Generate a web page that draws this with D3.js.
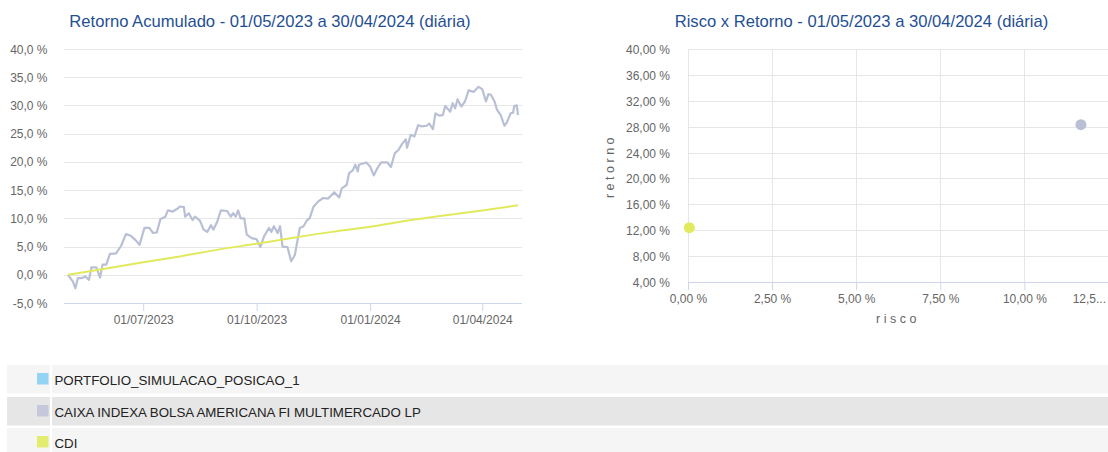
<!DOCTYPE html>
<html>
<head>
<meta charset="utf-8">
<script src="https://cdn.jsdelivr.net/npm/d3@7"></script>
<style>
  body { margin: 0; background: #fff; }
  svg { display: block; font-family: "Liberation Sans", Arial, Helvetica, sans-serif; }
</style>
</head>
<body>
<svg id="chart" width="1108" height="452"></svg>
<script>
/*
 * Retorno acumulado (linhas) e risco x retorno (dispersão), com legenda em tabela.
 */

// CAIXA INDEXA BOLSA AMERICANA: retorno acumulado (%) por data
var fundDates = [
  "2023-05-01", "2023-05-05", "2023-05-07", "2023-05-09", "2023-05-12", "2023-05-15", "2023-05-18",
  "2023-05-20", "2023-05-24", "2023-05-27", "2023-05-29", "2023-06-01", "2023-06-04", "2023-06-09",
  "2023-06-13", "2023-06-17", "2023-06-21", "2023-06-25", "2023-06-28", "2023-07-02", "2023-07-06",
  "2023-07-09", "2023-07-12", "2023-07-15", "2023-07-19", "2023-07-21", "2023-07-25", "2023-07-28",
  "2023-07-31", "2023-08-03", "2023-08-04", "2023-08-07", "2023-08-10", "2023-08-12", "2023-08-16",
  "2023-08-19", "2023-08-22", "2023-08-25", "2023-08-27", "2023-08-30", "2023-09-02", "2023-09-07",
  "2023-09-10", "2023-09-12", "2023-09-14", "2023-09-16", "2023-09-18", "2023-09-21", "2023-09-23",
  "2023-09-27", "2023-10-01", "2023-10-04", "2023-10-07", "2023-10-11", "2023-10-13", "2023-10-15",
  "2023-10-18", "2023-10-20", "2023-10-22", "2023-10-26", "2023-10-29", "2023-11-01", "2023-11-05",
  "2023-11-08", "2023-11-11", "2023-11-13", "2023-11-16", "2023-11-20", "2023-11-24", "2023-11-28",
  "2023-12-03", "2023-12-07", "2023-12-09", "2023-12-13", "2023-12-15", "2023-12-18", "2023-12-20",
  "2023-12-22", "2023-12-23", "2023-12-29", "2024-01-01", "2024-01-04", "2024-01-07", "2024-01-10",
  "2024-01-15", "2024-01-18", "2024-01-21", "2024-01-24", "2024-01-27", "2024-01-30", "2024-01-31",
  "2024-02-03", "2024-02-06", "2024-02-09", "2024-02-12", "2024-02-16", "2024-02-18", "2024-02-21",
  "2024-02-23", "2024-02-26", "2024-02-29", "2024-03-02", "2024-03-06", "2024-03-08", "2024-03-10",
  "2024-03-12", "2024-03-15", "2024-03-18", "2024-03-21", "2024-03-25", "2024-03-29", "2024-04-01",
  "2024-04-04", "2024-04-06", "2024-04-08", "2024-04-11", "2024-04-13", "2024-04-16", "2024-04-19",
  "2024-04-21", "2024-04-24", "2024-04-26", "2024-04-27", "2024-04-29", "2024-04-30"
];
var fundValues = [
  0.0, -1.2, -2.4, -0.6, -0.6, -0.3, -0.9,
  1.3, 1.3, -0.5, 1.8, 1.8, 3.7, 3.8,
  5.1, 7.2, 6.9, 6.1, 5.3, 8.3, 8.3,
  7.4, 7.5, 9.9, 10.3, 11.4, 11.2, 11.6,
  12.1, 12.0, 10.3, 10.9, 9.7, 10.3, 9.6,
  8.0, 7.6, 8.8, 8.0, 9.4, 11.4, 11.3,
  10.3, 10.9, 10.3, 11.4, 10.0, 10.0, 7.1,
  6.5, 6.3, 4.9, 6.8, 8.3, 7.6, 8.6,
  7.4, 8.6, 5.0, 4.9, 2.4, 3.5, 8.3,
  8.6, 9.7, 10.0, 12.0, 13.0, 13.6, 13.5,
  14.6, 13.7, 15.3, 15.9, 18.0, 18.5, 19.5,
  18.3, 19.5, 19.9, 19.2, 17.6, 18.9, 19.9,
  19.9, 19.1, 21.5, 22.1, 23.2, 24.0, 22.5,
  24.8, 24.5, 26.5, 26.3, 26.4, 26.8, 25.8,
  28.6, 28.2, 28.3, 29.9, 28.9, 30.4, 29.5,
  31.1, 29.8, 30.7, 32.7, 32.4, 33.3, 32.9,
  30.7, 32.0, 31.9, 30.7, 29.2, 28.3, 26.4,
  27.0, 28.6, 28.7, 29.9, 30.0, 28.3
];

// CDI: retorno acumulado (%)
var cdiDates = [
  "2023-05-01", "2023-06-01", "2023-07-01", "2023-08-01", "2023-09-01", "2023-10-01", "2023-11-01",
  "2023-12-01", "2024-01-01", "2024-02-01", "2024-03-01", "2024-04-01", "2024-04-30"
];
var cdiValues = [0.0, 1.1, 2.2, 3.3, 4.5, 5.5, 6.6, 7.6, 8.5, 9.6, 10.5, 11.4, 12.3];

// Risco x retorno (%)
var scatterNames = ["CAIXA INDEXA BOLSA AMERICANA FI MULTIMERCADO LP", "CDI"];
var scatterRisk = [11.68, 0.04];
var scatterReturn = [28.3, 12.4];

// Legenda
var legendNames = ["PORTFOLIO_SIMULACAO_POSICAO_1", "CAIXA INDEXA BOLSA AMERICANA FI MULTIMERCADO LP", "CDI"];
var legendColors = ["#93d4f5", "#c5c8da", "#e3ec6c"];

// Eixos
var lineYTicks = [-5, 0, 5, 10, 15, 20, 25, 30, 35, 40];
var lineXTicks = ["2023-07-01", "2023-10-01", "2024-01-01", "2024-04-01"];
var scatterYTicks = [4, 8, 12, 16, 20, 24, 28, 32, 36, 40];
var scatterXTicks = [0, 2.5, 5, 7.5, 10, 12.5];

var leftTitle = "Retorno Acumulado - 01/05/2023 a 30/04/2024 (diária)";
var rightTitle = "Risco x Retorno - 01/05/2023 a 30/04/2024 (diária)";

var GRID = "#e6e6e6", AXIS = "#ccd6eb", LABEL = "#666666", TITLE = "#1f4f93";
var fundColor = "#b9c0d5", cdiColor = "#e1ea5c";

var ptBR = d3.formatLocale({ decimal: ",", thousands: ".", grouping: [3], currency: ["R$", ""], minus: "-" });
var parseDate = d3.timeParse("%Y-%m-%d");
var svg = d3.select("#chart");

function renderLineChart() {
  /* Gráfico de retorno acumulado à esquerda. */
  var left = 64, right = 522, top = 49, bottom = 303;
  var x = d3.scaleTime()
    .domain([parseDate("2023-05-01"), parseDate("2024-04-30")])
    .range([68, 518]);
  var y = d3.scaleLinear().domain([-5, 40]).range([bottom, top]);
  var fmt = ptBR.format(".1f");

  var g = svg.append("g");

  g.append("text")
    .attr("x", 270).attr("y", 27)
    .attr("text-anchor", "middle")
    .attr("font-size", 16.6).attr("fill", TITLE)
    .text(leftTitle);

  // linhas de grade
  g.selectAll(".hgrid")
    .data(lineYTicks.filter(function(v) { return v > -5; }))
    .enter().append("line")
      .attr("x1", left).attr("x2", right)
      .attr("y1", function(d) { return Math.round(y(d)) + 0.5; })
      .attr("y2", function(d) { return Math.round(y(d)) + 0.5; })
      .attr("stroke", GRID);

  g.selectAll(".ylabel")
    .data(lineYTicks)
    .enter().append("text")
      .attr("x", 47.5)
      .attr("y", function(d) { return y(d) + 4.5; })
      .attr("text-anchor", "end")
      .attr("font-size", 12).attr("fill", LABEL)
      .text(function(d) { return fmt(d) + " %"; });

  // eixo X
  var xAxis = g.append("g")
    .attr("transform", "translate(0, " + bottom + ")")
    .call(d3.axisBottom(x)
      .tickValues(lineXTicks.map(parseDate))
      .tickSize(8).tickPadding(4)
      .tickFormat(d3.timeFormat("%d/%m/%Y")));
  xAxis.select(".domain").remove();
  xAxis.selectAll("line").attr("stroke", AXIS);
  xAxis.selectAll("text").attr("font-size", 12).attr("fill", LABEL)
    .attr("font-family", "Liberation Sans, Arial, sans-serif");
  g.append("line")
    .attr("x1", left).attr("x2", right)
    .attr("y1", bottom + 0.5).attr("y2", bottom + 0.5)
    .attr("stroke", AXIS);

  var line = d3.line()
    .x(function(d) { return x(d.date); })
    .y(function(d) { return y(d.value); });

  var fund = fundDates.map(function(d, i) { return { date: parseDate(d), value: fundValues[i] }; });
  var cdi = cdiDates.map(function(d, i) { return { date: parseDate(d), value: cdiValues[i] }; });

  g.append("path").datum(fund)
    .attr("d", line)
    .attr("fill", "none").attr("stroke", fundColor)
    .attr("stroke-width", 2.2).attr("stroke-linejoin", "round");

  g.append("path").datum(cdi)
    .attr("d", line.curve(d3.curveMonotoneX))
    .attr("fill", "none").attr("stroke", cdiColor)
    .attr("stroke-width", 2);
}

function renderScatter() {
  /* Gráfico de risco x retorno à direita. */
  var left = 688, right = 1108, top = 49, bottom = 282;
  var x = d3.scaleLinear().domain([0, 2.5]).range([left, 772.1]);
  var y = d3.scaleLinear().domain([4, 40]).range([bottom, top]);
  var fmt = ptBR.format(".2f");

  var g = svg.append("g");

  g.append("text")
    .attr("x", 861.5).attr("y", 27)
    .attr("text-anchor", "middle")
    .attr("font-size", 16.6).attr("fill", TITLE)
    .text(rightTitle);

  g.selectAll(".vgrid")
    .data(scatterXTicks)
    .enter().append("line")
      .attr("x1", function(d) { return Math.round(x(d)) + 0.5; })
      .attr("x2", function(d) { return Math.round(x(d)) + 0.5; })
      .attr("y1", top).attr("y2", bottom)
      .attr("stroke", GRID);

  g.selectAll(".hgrid")
    .data(scatterYTicks.filter(function(v) { return v > 4; }))
    .enter().append("line")
      .attr("x1", left).attr("x2", right)
      .attr("y1", function(d) { return Math.round(y(d)) + 0.5; })
      .attr("y2", function(d) { return Math.round(y(d)) + 0.5; })
      .attr("stroke", GRID);

  g.selectAll(".ylabel")
    .data(scatterYTicks)
    .enter().append("text")
      .attr("x", 670)
      .attr("y", function(d) { return y(d) + 5; })
      .attr("text-anchor", "end")
      .attr("font-size", 12).attr("fill", LABEL)
      .text(function(d) { return fmt(d) + " %"; });

  var xAxis = g.append("g")
    .attr("transform", "translate(0, " + bottom + ")")
    .call(d3.axisBottom(x)
      .tickValues(scatterXTicks)
      .tickSize(8).tickPadding(4)
      .tickFormat(function(d) { return d === 12.5 ? "12,5..." : fmt(d) + " %"; }));
  xAxis.select(".domain").remove();
  xAxis.selectAll("line").attr("stroke", AXIS);
  xAxis.selectAll("text").attr("font-size", 12).attr("fill", LABEL)
    .attr("font-family", "Liberation Sans, Arial, sans-serif");
  // o último rótulo é cortado pela borda, como no original
  xAxis.selectAll("text").filter(function(d) { return d === 12.5; })
    .attr("text-anchor", "end").attr("x", -3);
  g.append("line")
    .attr("x1", left).attr("x2", right)
    .attr("y1", bottom + 0.5).attr("y2", bottom + 0.5)
    .attr("stroke", AXIS);

  // títulos dos eixos
  g.append("text")
    .attr("x", 898).attr("y", 323)
    .attr("text-anchor", "middle")
    .attr("font-size", 12.5).attr("fill", LABEL)
    .attr("letter-spacing", "3.5px")
    .text("risco");

  g.append("text")
    .attr("transform", "translate(614, 166) rotate(270)")
    .attr("text-anchor", "middle")
    .attr("font-size", 12.5).attr("fill", LABEL)
    .attr("letter-spacing", "3.5px")
    .text("retorno");

  var colors = [fundColor, cdiColor];
  g.selectAll(".dot")
    .data(scatterNames)
    .enter().append("circle")
      .attr("cx", function(d, i) { return x(scatterRisk[i]); })
      .attr("cy", function(d, i) { return y(scatterReturn[i]); })
      .attr("r", 5.5)
      .attr("fill", function(d, i) { return colors[i]; });
}

function renderLegend() {
  /* Legenda em forma de tabela. */
  var rowTops = [365, 397, 428];
  var rowFills = ["#f5f5f5", "#e6e6e6", "#f5f5f5"];

  var rows = svg.append("g").selectAll(".row")
    .data(legendNames)
    .enter().append("g")
      .attr("transform", function(d, i) { return "translate(0, " + rowTops[i] + ")"; });

  rows.append("rect")
    .attr("x", 7).attr("width", 43).attr("height", 28.5)
    .attr("fill", function(d, i) { return rowFills[i]; });
  rows.append("rect")
    .attr("x", 52).attr("width", 1108 - 52).attr("height", 28.5)
    .attr("fill", function(d, i) { return rowFills[i]; });
  rows.append("rect")
    .attr("x", 37).attr("y", 8).attr("width", 11.5).attr("height", 11.5)
    .attr("fill", function(d, i) { return legendColors[i]; });
  rows.append("text")
    .attr("x", 54.5).attr("y", 19.5)
    .attr("font-size", 13.3).attr("fill", "#222")
    .text(function(d) { return d; });
}

renderLineChart();
renderScatter();
renderLegend();
</script>
</body>
</html>
